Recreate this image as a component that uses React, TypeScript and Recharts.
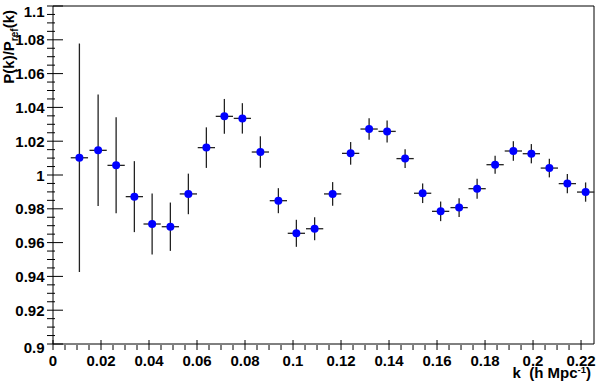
import { ScatterChart, Scatter, XAxis, YAxis, ErrorBar, ReferenceLine } from 'recharts';

// k bin centres (h/Mpc)
const kValues = [
  0.011, 0.0188, 0.0263, 0.0339, 0.0413, 0.0489, 0.0564, 0.0639, 0.0714, 0.0789,
  0.0864, 0.0939, 0.1014, 0.109, 0.1165, 0.124, 0.1317, 0.1392, 0.1467, 0.154,
  0.1615, 0.1692, 0.1767, 0.1842, 0.1918, 0.1993, 0.2068, 0.2143, 0.2219,
];

// P(k)/Pref(k)
const ratioValues = [
  1.0102, 1.0146, 1.0057, 0.9872, 0.971, 0.9694, 0.9888, 1.0162, 1.0347, 1.0335,
  1.0136, 0.9848, 0.9655, 0.9682, 0.9888, 1.0128, 1.0272, 1.0258, 1.0097, 0.9892,
  0.9785, 0.9807, 0.9919, 1.0061, 1.0142, 1.0126, 1.0041, 0.9949, 0.9899,
];

const ratioErrors = [
  0.0676, 0.033, 0.0284, 0.021, 0.018, 0.0143, 0.012, 0.012, 0.0103, 0.009,
  0.0093, 0.0074, 0.008, 0.0068, 0.007, 0.0067, 0.0064, 0.0065, 0.0055, 0.0058,
  0.0058, 0.0055, 0.0059, 0.0053, 0.0058, 0.0057, 0.0055, 0.0057, 0.0057,
];

const kHalfWidth = 0.0036;

const xDomain = [0, 0.2254];
const yDomain = [0.9, 1.1];
const xMajorTicks = [0, 0.02, 0.04, 0.06, 0.08, 0.1, 0.12, 0.14, 0.16, 0.18, 0.2, 0.22];
const yMajorTicks = [0.9, 0.92, 0.94, 0.96, 0.98, 1, 1.02, 1.04, 1.06, 1.08, 1.1];

const data = kValues.map((k, i) => ({
  k,
  ratio: ratioValues[i],
  ey: ratioErrors[i],
  ex: kHalfWidth,
}));

// 3 minor ticks between each pair of majors
const withMinors = (majors: number[]) => {
  const out: number[] = [];
  majors.forEach((m, i) => {
    out.push(m);
    if (i < majors.length - 1) {
      const step = (majors[i + 1] - m) / 4;
      for (let j = 1; j < 4; j++) out.push(Math.round((m + step * j) * 1e5) / 1e5);
    }
  });
  return out;
};

const xTicks = withMinors(xMajorTicks);
const yTicks = withMinors(yMajorTicks);

const isMajor = (v: number, majors: number[]) => majors.some((m) => Math.abs(m - v) < 1e-7);
const fmt = (v: number) => String(Number(v.toFixed(2)));

const font = '"Liberation Sans", Arial, sans-serif';

const XTick = (props: any) => {
  const { x, y, payload } = props;
  const major = isMajor(payload.value, xMajorTicks);
  return (
    <g>
      <line x1={x} x2={x} y1={y} y2={y - (major ? 10 : 5)} stroke="#000" strokeWidth={1} />
      {major && (
        <text x={x} y={y + 16} textAnchor="middle" fontFamily={font} fontWeight="bold" fontSize={15} fill="#000">
          {fmt(payload.value)}
        </text>
      )}
    </g>
  );
};

const YTick = (props: any) => {
  const { x, y, payload } = props;
  const major = isMajor(payload.value, yMajorTicks);
  // ROOT nudges the end labels inward so they are not clipped
  const ty = Math.abs(payload.value - yDomain[0]) < 1e-7 ? y + 9 : Math.max(y + 5.5, 17);
  return (
    <g>
      <line x1={x} x2={x + (major ? 16 : 8)} y1={y} y2={y} stroke="#000" strokeWidth={1} />
      {major && (
        <text x={x - 2.5} y={ty} textAnchor="end" fontFamily={font} fontWeight="bold" fontSize={15} fill="#000">
          {fmt(payload.value)}
        </text>
      )}
    </g>
  );
};

const Dot = (props: any) => <circle cx={props.cx} cy={props.cy} r={4} fill="#0000ff" />;

export default function App() {
  return (
    <div style={{ position: 'absolute', left: 0, top: 0, width: 600, height: 385, background: '#fff' }}>
      <ScatterChart width={600} height={385} margin={{ top: 6, right: 6, bottom: 11, left: 8 }}>
        <XAxis
          type="number"
          dataKey="k"
          domain={xDomain}
          allowDataOverflow
          ticks={xTicks}
          interval={0}
          tickLine={false}
          tickMargin={0}
          tick={<XTick />}
          height={30}
          axisLine={{ stroke: '#000', strokeWidth: 1 }}
        />
        <YAxis
          type="number"
          dataKey="ratio"
          domain={yDomain}
          allowDataOverflow
          ticks={yTicks}
          interval={0}
          tickLine={false}
          tickMargin={0}
          tick={<YTick />}
          width={45}
          axisLine={{ stroke: '#000', strokeWidth: 1 }}
        />
        <ReferenceLine y={1.1} stroke="#000" strokeWidth={1} />
        <ReferenceLine x={xDomain[1]} stroke="#000" strokeWidth={1} />
        <Scatter data={data} shape={<Dot />} isAnimationActive={false}>
          <ErrorBar dataKey="ey" direction="y" width={0} stroke="#222" strokeWidth={1.3} />
          <ErrorBar dataKey="ex" direction="x" width={0} stroke="#222" strokeWidth={1.3} />
        </Scatter>
      </ScatterChart>
      <svg width={600} height={385} style={{ position: 'absolute', left: 0, top: 0, pointerEvents: 'none' }}>
        <text
          transform="translate(14, 10) rotate(-90)"
          textAnchor="end"
          fontFamily={font}
          fontWeight="bold"
          fontSize={15}
          fill="#000"
        >
          P(k)/P
          <tspan fontSize={10} dy={4}>ref</tspan>
          <tspan dy={-4}>(k)</tspan>
        </text>
        <text x={591} y={378} textAnchor="end" fontFamily={font} fontWeight="bold" fontSize={15} fill="#000">
          {'k\u00a0\u00a0(h Mpc'}
          <tspan fontSize={9.5} dy={-5}>-1</tspan>
          <tspan dy={5}>)</tspan>
        </text>
      </svg>
    </div>
  );
}
